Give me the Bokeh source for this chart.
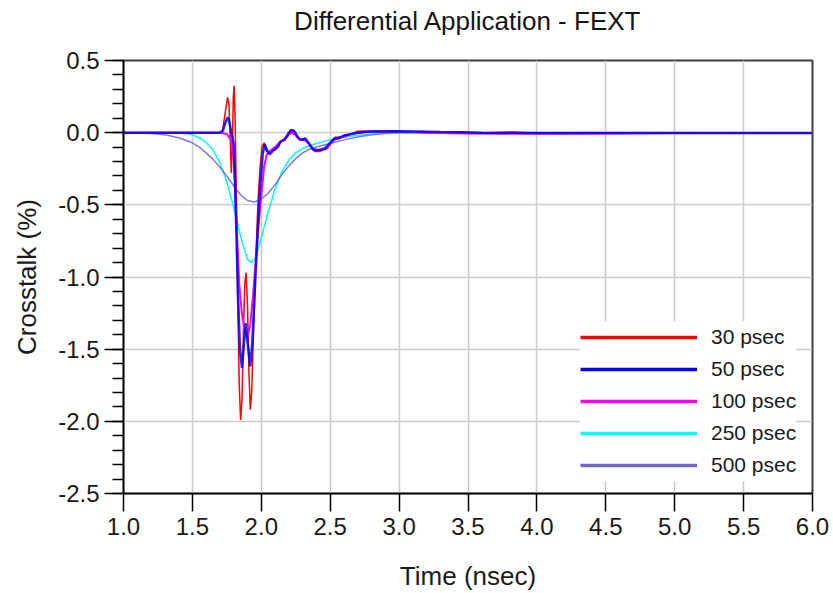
from bokeh.plotting import figure
from bokeh.models import Range1d, FixedTicker, PrintfTickFormatter, Legend, LegendItem, Title
from bokeh.embed import file_html
from bokeh.resources import INLINE

# ---------------- data ----------------
title_text = "Differential Application - FEXT"
labels = ["30 psec", "50 psec", "100 psec", "250 psec", "500 psec"]
colors = ["#ff0000", "#0000ff", "#ff00ff", "#00ffff", "#6f63cf"]

t30 = [1.0, 1.70, 1.72, 1.74, 1.755, 1.765, 1.775, 1.782, 1.79, 1.797, 1.803, 1.81, 1.82, 1.83,
       1.84, 1.85, 1.86, 1.87, 1.88, 1.89, 1.90, 1.91, 1.92, 1.93, 1.945, 1.96, 1.975, 1.99, 2.005,
       2.02, 2.035, 2.05, 2.07, 2.10, 2.13, 2.16, 2.19, 2.21, 2.23, 2.25, 2.28, 2.31, 2.33, 2.36,
       2.39, 2.42, 2.45, 2.48, 2.51, 2.54, 2.57, 2.60, 2.65, 2.70, 2.75, 2.85, 2.95, 3.05, 3.15,
       3.30, 3.45, 3.60, 3.80, 4.00, 4.30, 4.60, 5.00, 5.50, 6.00]
v30 = [0.0, 0.0, 0.02, 0.15, 0.245, 0.20, -0.05, -0.28, -0.10, 0.25, 0.325, 0.10, -0.50, -1.20,
       -1.75, -1.99, -1.85, -1.40, -1.05, -0.97, -1.20, -1.65, -1.92, -1.80, -1.35, -0.90, -0.50,
       -0.25, -0.10, -0.07, -0.12, -0.14, -0.13, -0.12, -0.08, -0.05, -0.03, 0.02, 0.02, -0.02,
       -0.05, -0.04, -0.06, -0.10, -0.13, -0.13, -0.12, -0.11, -0.06, -0.03, -0.04, -0.02, -0.01,
       0.01, 0.012, 0.005, 0.012, 0.003, 0.008, 0.0, 0.006, -0.003, 0.004, -0.004, 0.0, -0.003,
       0.0, -0.002, 0.0]

t50 = [1.0, 1.70, 1.72, 1.74, 1.755, 1.765, 1.775, 1.79, 1.80, 1.81, 1.82, 1.83, 1.845, 1.86,
       1.875, 1.887, 1.90, 1.92, 1.935, 1.95, 1.97, 1.99, 2.01, 2.025, 2.04, 2.06, 2.09, 2.12,
       2.14, 2.17, 2.20, 2.22, 2.24, 2.27, 2.30, 2.32, 2.35, 2.38, 2.42, 2.46, 2.50, 2.53, 2.56,
       2.60, 2.65, 2.70, 2.80, 3.00, 3.30, 3.60, 4.00, 5.00, 6.00]
v50 = [0.0, 0.0, 0.01, 0.07, 0.105, 0.09, 0.04, -0.03, -0.08, -0.35, -0.72, -1.10, -1.50, -1.63,
       -1.45, -1.32, -1.45, -1.62, -1.45, -1.15, -0.75, -0.40, -0.15, -0.08, -0.12, -0.15, -0.12,
       -0.10, -0.06, -0.05, 0.00, 0.015, 0.01, -0.04, -0.05, -0.04, -0.08, -0.12, -0.12, -0.11,
       -0.07, -0.04, -0.04, -0.02, -0.01, 0.0, 0.008, 0.01, 0.004, 0.0, -0.003, -0.002, -0.002]

t100 = [1.0, 1.70, 1.75, 1.78, 1.80, 1.82, 1.84, 1.86, 1.88, 1.90, 1.92, 1.94, 1.96, 1.98, 2.00,
        2.02, 2.04, 2.07, 2.10, 2.13, 2.16, 2.19, 2.22, 2.25, 2.28, 2.31, 2.34, 2.37, 2.40, 2.44,
        2.48, 2.52, 2.56, 2.60, 2.65, 2.70, 2.80, 3.00, 3.20, 3.50, 3.80, 4.20, 4.60, 5.00, 6.00]
v100 = [0.0, 0.0, -0.01, -0.05, -0.18, -0.62, -1.05, -1.26, -1.38, -1.42, -1.33, -1.13, -0.88,
        -0.64, -0.44, -0.24, -0.15, -0.12, -0.10, -0.07, -0.05, -0.02, 0.0, -0.02, -0.05, -0.05,
        -0.07, -0.11, -0.12, -0.12, -0.10, -0.06, -0.03, -0.03, -0.01, 0.0, 0.01, 0.01, 0.0,
        -0.005, -0.008, -0.008, -0.005, -0.002, -0.002]

t250 = [1.0, 1.40, 1.45, 1.50, 1.55, 1.60, 1.65, 1.70, 1.75, 1.80, 1.85, 1.90, 1.93, 1.96, 2.00,
        2.05, 2.10, 2.15, 2.20, 2.25, 2.30, 2.35, 2.40, 2.50, 2.60, 2.70, 2.80, 2.90, 3.00, 6.00]
v250 = [0.0, 0.0, -0.005, -0.015, -0.035, -0.07, -0.12, -0.21, -0.34, -0.52, -0.72, -0.88, -0.90,
        -0.86, -0.73, -0.55, -0.39, -0.27, -0.19, -0.14, -0.11, -0.09, -0.075, -0.05, -0.03,
        -0.02, -0.01, -0.003, 0.0, 0.0]

t500 = [1.0, 1.1, 1.2, 1.3, 1.4, 1.5, 1.55, 1.6, 1.65, 1.7, 1.75, 1.8, 1.85, 1.9, 1.95, 2.0, 2.05,
        2.1, 2.15, 2.2, 2.25, 2.3, 2.35, 2.4, 2.5, 2.6, 2.7, 2.8, 2.9, 3.0, 6.0]
v500 = [0.0, -0.002, -0.006, -0.015, -0.035, -0.07, -0.10, -0.14, -0.185, -0.24, -0.30, -0.37,
        -0.43, -0.47, -0.48, -0.46, -0.42, -0.36, -0.29, -0.23, -0.18, -0.14, -0.115, -0.10,
        -0.075, -0.05, -0.03, -0.015, -0.005, 0.0, 0.0]

series_t = [t30, t50, t100, t250, t500]
series_v = [v30, v50, v100, v250, v500]

x_ticks = [1.0, 1.5, 2.0, 2.5, 3.0, 3.5, 4.0, 4.5, 5.0, 5.5, 6.0]
y_ticks = [0.5, 0.0, -0.5, -1.0, -1.5, -2.0, -2.5]

# ---------------- figure ----------------
FONT = "Liberation Sans"
p = figure(width=833, height=593, output_backend="svg", toolbar_location=None,
           x_range=Range1d(1.0, 6.0), y_range=Range1d(-2.5, 0.5),
           min_border_left=123, min_border_right=21, min_border_top=60, min_border_bottom=98)

p.background_fill_color = "white"
p.border_fill_color = "white"
p.outline_line_color = "#3c3c3c"
p.outline_line_width = 2

# title: a small spacer panel next to the frame lifts the title up without moving the frame
p.add_layout(Title(text=" ", text_font_size="12px", standoff=9), "above")
p.add_layout(Title(text=title_text, align="center", standoff=0, text_font=FONT,
                   text_font_size="26px", text_font_style="normal", text_color="#151515"),
             "above")

y_minor = [round(-2.5 + 0.1 * i, 1) for i in range(31)]
p.xaxis.ticker = FixedTicker(ticks=x_ticks)
p.yaxis.ticker = FixedTicker(ticks=y_ticks, minor_ticks=y_minor)
p.xaxis.formatter = PrintfTickFormatter(format="%.1f")
p.yaxis.formatter = PrintfTickFormatter(format="%.1f")

for ax in (p.xaxis, p.yaxis):
    ax.axis_line_color = "black"
    ax.axis_line_width = 1.5
    ax.major_tick_line_color = "black"
    ax.major_tick_line_width = 1.5
    ax.major_tick_in = 0
    ax.major_label_text_font = FONT
    ax.major_label_text_font_size = "24px"
    ax.major_label_text_color = "#1a1a1a"
    ax.axis_label_text_font = FONT
    ax.axis_label_text_font_size = "26px"
    ax.axis_label_text_font_style = "normal"
    ax.axis_label_text_color = "#1a1a1a"

p.xaxis.major_tick_out = 18
p.yaxis.major_tick_out = 19
p.xaxis.minor_tick_line_color = None
p.yaxis.minor_tick_line_color = "black"
p.yaxis.minor_tick_line_width = 1.5
p.yaxis.minor_tick_out = 11
p.yaxis.minor_tick_in = 0
p.xaxis.major_label_standoff = 6
p.yaxis.major_label_standoff = 5
p.xaxis.axis_label = "Time (nsec)"
p.yaxis.axis_label = "Crosstalk (%)"
p.xaxis.axis_label_standoff = 23
p.yaxis.axis_label_standoff = 13

p.grid.grid_line_color = "#cbcbcb"
p.grid.grid_line_width = 1.5

# ---------------- curves ----------------
p.line(t250, v250, line_color=colors[3], line_width=1.5)
p.line(t500, v500, line_color=colors[4], line_width=1.5, line_alpha=0.85)
p.line(t30, v30, line_color=colors[0], line_width=1.5)
p.line(t100, v100, line_color=colors[2], line_width=2)
p.line(t50, v50, line_color=colors[1], line_width=2.5, line_alpha=0.85)

# legend: one-point renderers (draw nothing on the plot) carrying thicker sample lines
items = []
for lab, col, ts, vs in zip(labels, colors, series_t, series_v):
    r = p.line(x=ts[:1], y=vs[:1], line_color=col, line_width=3.5)
    items.append(LegendItem(label=lab, renderers=[r]))
legend = Legend(items=items, location=(457, 12), glyph_width=117, glyph_height=32,
                spacing=0, padding=0, margin=0, label_standoff=14,
                label_text_font=FONT, label_text_font_size="21px", label_text_color="#1a1a1a",
                border_line_color=None, background_fill_color="white", background_fill_alpha=1.0)
p.add_layout(legend)

open("out.html", "w").write(file_html(p, INLINE))
